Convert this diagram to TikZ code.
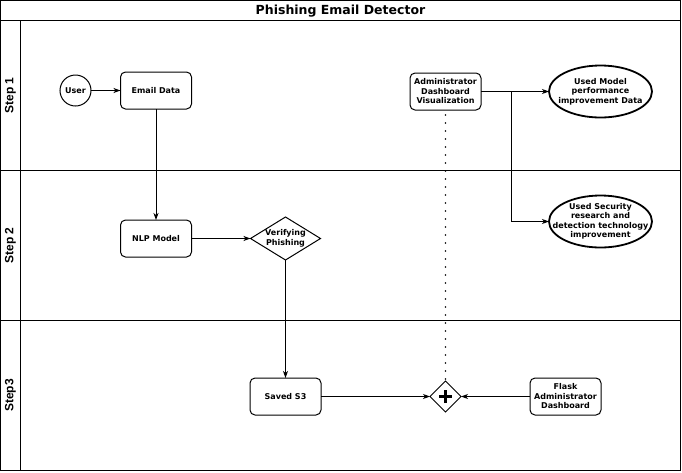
\documentclass[tikz,border=0pt]{standalone}
\usepackage{fontspec}
\setmainfont{DejaVu Sans}
\newfontfamily\lanefont{Liberation Sans}
\usetikzlibrary{positioning}
\usetikzlibrary{shapes.geometric}
\usetikzlibrary{arrows.meta}

\begin{document}
\begin{tikzpicture}[x=1pt, y=-1pt, line width=1pt,
                    every node/.style={font=\fontsize{8}{9.5}\selectfont\bfseries, align=center, inner sep=0pt, outer sep=0pt},
                    task/.style={rectangle, draw, rounded corners=5pt, minimum width=71pt, minimum height=37pt},
                    lane/.style={rotate=90, font=\lanefont\fontsize{12}{14}\selectfont\bfseries},
                    oval/.style={rectangle, minimum width=103pt, minimum height=52pt},
                    arr/.style={-{Stealth[length=7pt, width=5pt, inset=2pt]}},
                    dots/.style={line width=1.6pt, dash pattern=on 0pt off 8pt, line cap=round}]
\fill[white] (0,0) rectangle (682,472);
\useasboundingbox (0,0) rectangle (682,472);
\draw (0.5,0.5) rectangle (680.5,470.5);
\draw (0.5,20.5) -- (680.5,20.5);
\draw (20.5,20.5) -- (20.5,470.5);
\draw (0.5,170.5) -- (680.5,170.5);
\draw (0.5,320.5) -- (680.5,320.5);
\node (title) at (340.5,11) [font=\fontsize{12.5}{14}\selectfont\bfseries] {Phishing Email Detector};
\node (step1) at (10.5,95.5) [lane] {Step 1};
\node (step2) at (10.5,245.5) [lane] {Step 2};
\node (step3) at (10.5,395.5) [lane] {Step3};
\node (user) at (75.5,90.5) [circle, draw, minimum size=31pt] {User};
\node (email) [task, right=29.5pt of user] {Email Data};
\node (nlp) [task, below=111pt of email] {NLP Model};
\node (verify) [rectangle, minimum width=70pt, minimum height=43pt, right=59pt of nlp] {Verifying\\Phishing};
\node (saved) [task, below=118pt of verify] {Saved S3};
\node (join) [diamond, draw, minimum size=31pt, right=109pt of saved] {};
\node (flask) [task, right=69pt of join] {Flask\\Administrator\\Dashboard};
\node (admin) [task, above=271pt of join] {Administrator\\Dashboard\\Visualization};
\node (perf) [oval, right=68pt of admin] {Used Model\\performance\\improvement Data};
\node (sec) [oval, below=78pt of perf] {Used Security\\research and\\detection technology\\improvement};
\coordinate (fork) at ([xshift=30pt]admin.east);
\draw (verify.north) -- (verify.east) -- (verify.south) -- (verify.west) -- cycle;
\draw[line width=1.8pt] (perf) ellipse [x radius=51.5pt, y radius=26pt];
\draw[line width=1.8pt] (sec) ellipse [x radius=51.5pt, y radius=26pt];
\draw[line width=3pt] ([yshift=-6.5pt]join.center) -- ([yshift=6.5pt]join.center);
\draw[line width=3pt] ([xshift=-6.5pt]join.center) -- ([xshift=6.5pt]join.center);
\draw[arr] (user) -- (email);
\draw[arr] (email) -- (nlp);
\draw[arr] (nlp) -- (verify.west);
\draw[arr] (verify.south) -- (saved);
\draw[arr] (saved) -- (join.west);
\draw[arr] (flask) -- (join.east);
\draw[dots] ([yshift=-5pt]admin.south) -- (join.north);
\draw[arr] (admin) -- (perf);
\draw[arr] (fork) |- (sec.west);
\end{tikzpicture}
\end{document}
